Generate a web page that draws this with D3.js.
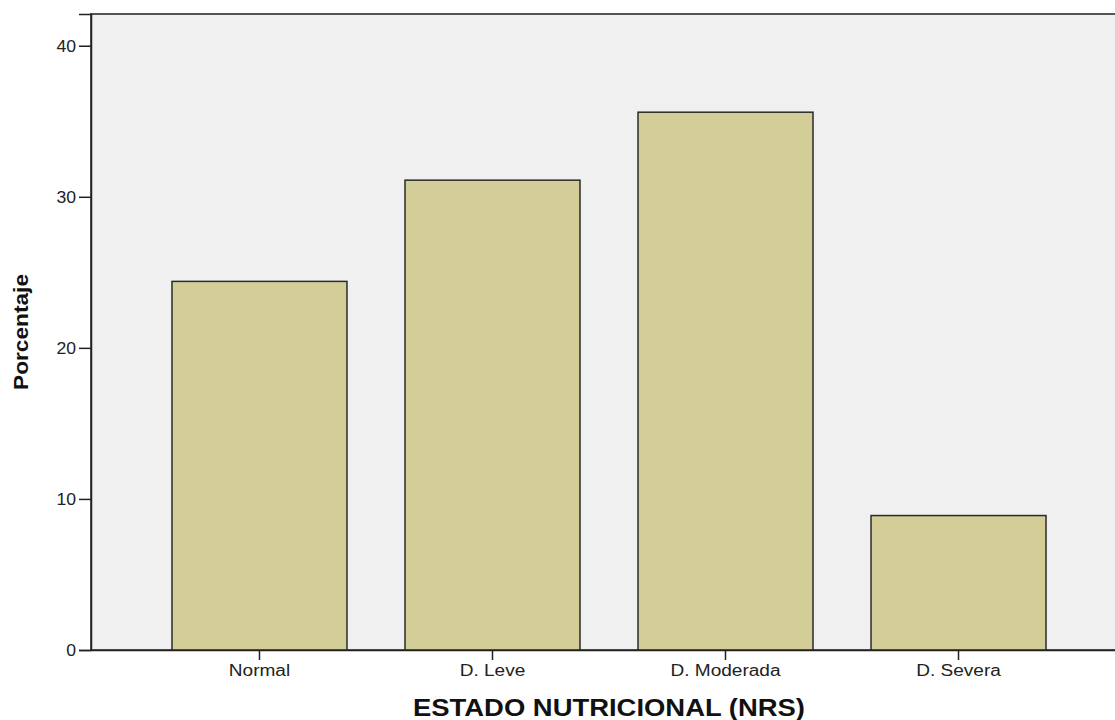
<!DOCTYPE html>
<html><head><meta charset="utf-8">
<script src="https://cdn.jsdelivr.net/npm/d3@7"></script>
<style>html,body{margin:0;padding:0;background:#fff;}svg{display:block;}</style>
</head><body>
<svg id="c" width="1115" height="720"></svg>
<script>
const categories = ["Normal", "D. Leve", "D. Moderada", "D. Severa"];
const values = [24.4, 31.1, 35.6, 8.9];
const yTicks = [0, 10, 20, 30, 40];

(function () {
const FONT = "Liberation Sans, Arial, sans-serif";
const svg = d3.select("#c");
const pL = 91, pR = 1127, pT = 14, pB = 650;
const x = d3.scaleBand().domain(categories).range([pL, pR]).paddingInner(0.249).paddingOuter(0.3476);
const y = d3.scaleLinear().domain([0, 42.1]).range([pB, pT]);

function stretch(sel, factor) {
  sel.each(function () {
    const w = this.getComputedTextLength();
    d3.select(this).attr("textLength", w * factor).attr("lengthAdjust", "spacingAndGlyphs");
  });
}

svg.append("rect").attr("x", pL).attr("y", pT).attr("width", pR - pL).attr("height", pB - pT)
  .attr("fill", "#f0f0f0").attr("stroke", "#555").attr("stroke-width", 2);

svg.selectAll("rect.bar").data(values).enter().append("rect").attr("class", "bar")
  .attr("x", (d, i) => x(categories[i]))
  .attr("y", d => y(d))
  .attr("width", x.bandwidth())
  .attr("height", d => pB - y(d))
  .attr("fill", "#d3ce97").attr("stroke", "#2a2a2a").attr("stroke-width", 1.5);

const yAxis = svg.append("g").attr("transform", `translate(${pL},0)`)
  .call(d3.axisLeft(y).tickValues(yTicks).tickSize(12).tickPadding(3).tickFormat(d3.format("d")));
yAxis.select(".domain").attr("stroke", "#222").attr("stroke-width", 1.5);
yAxis.selectAll("line").attr("stroke", "#222").attr("stroke-width", 1.5);
yAxis.selectAll("text").attr("font-family", FONT).attr("font-size", 16).attr("fill", "#222").attr("dy", "0.36em");
stretch(yAxis.selectAll("text"), 1.1);

const xAxis = svg.append("g").attr("transform", `translate(0,${pB})`)
  .call(d3.axisBottom(x).tickSize(10).tickPadding(5).tickSizeOuter(0));
xAxis.select(".domain").attr("stroke", "#222").attr("stroke-width", 1.5);
xAxis.selectAll("line").attr("stroke", "#222").attr("stroke-width", 1.5);
xAxis.selectAll("text").attr("font-family", FONT).attr("font-size", 16).attr("fill", "#222");
stretch(xAxis.selectAll("text"), 1.19);

svg.append("text").attr("x", (pL + pR) / 2).attr("y", 716).attr("text-anchor", "middle")
  .attr("font-family", FONT).attr("font-weight", "bold").attr("font-size", 23.5).attr("fill", "#111")
  .attr("textLength", 392).attr("lengthAdjust", "spacingAndGlyphs")
  .text("ESTADO NUTRICIONAL (NRS)");

svg.append("text").attr("transform", "translate(28,332) rotate(-90)").attr("text-anchor", "middle")
  .attr("font-family", FONT).attr("font-weight", "bold").attr("font-size", 20).attr("fill", "#111")
  .attr("textLength", 116).attr("lengthAdjust", "spacingAndGlyphs")
  .text("Porcentaje");
})();
</script>
</body></html>
